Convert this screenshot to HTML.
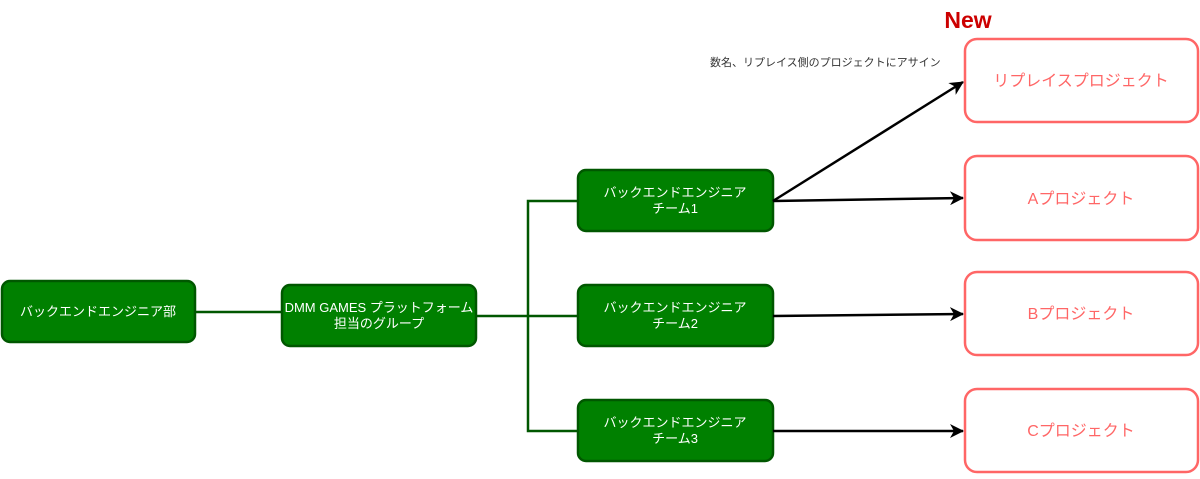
<!DOCTYPE html>
<html><head><meta charset="utf-8"><style>
body{margin:0;background:#fff;width:1200px;height:474px;overflow:hidden;font-family:"Liberation Sans","Noto Sans CJK JP",sans-serif}
</style></head><body>
<svg width="1200" height="474" xmlns="http://www.w3.org/2000/svg" font-family="Liberation Sans, Noto Sans CJK JP, sans-serif">
<defs><marker id="a" markerWidth="14" markerHeight="14" refX="13" refY="7" orient="auto" markerUnits="userSpaceOnUse"><path d="M0,0 L14,7 L0,14 L4,7 Z" fill="#000"/></marker></defs>
<g stroke="#005700" stroke-width="2.5" fill="none">
<line x1="195" y1="312" x2="282" y2="312"/>
<line x1="476" y1="316" x2="578" y2="316"/>
<polyline points="578,201 528,201 528,431 578,431"/>
</g>
<g fill="#008000" stroke="#005700" stroke-width="2.5">
<rect x="2" y="281" width="193" height="61" rx="8"/>
<rect x="282" y="285" width="194" height="61" rx="8"/>
<rect x="578" y="170" width="195" height="61" rx="8"/>
<rect x="578" y="285" width="195" height="61" rx="8"/>
<rect x="578" y="400" width="195" height="61" rx="8"/>
</g>
<g fill="#fff" font-size="13" text-anchor="middle">
<text x="98" y="316">バックエンドエンジニア部</text>
<text x="379" y="312">DMM GAMES プラットフォーム</text><text x="379" y="328">担当のグループ</text>
<text x="675" y="197">バックエンドエンジニア</text><text x="675" y="213">チーム1</text>
<text x="675" y="312">バックエンドエンジニア</text><text x="675" y="328">チーム2</text>
<text x="675" y="427">バックエンドエンジニア</text><text x="675" y="443">チーム3</text>
</g>
<g fill="#fff" stroke="#ff6666" stroke-width="2.5">
<rect x="965" y="39" width="233" height="83" rx="12"/>
<rect x="965" y="156" width="233" height="84" rx="12"/>
<rect x="965" y="272" width="233" height="83" rx="12"/>
<rect x="965" y="389" width="233" height="83" rx="12"/>
</g>
<g fill="#ff6666" font-size="16" text-anchor="middle">
<text x="1081" y="86">リプレイスプロジェクト</text>
<text x="1081" y="204">Aプロジェクト</text>
<text x="1081" y="319">Bプロジェクト</text>
<text x="1081" y="436">Cプロジェクト</text>
</g>
<g stroke="#000" stroke-width="2.5" marker-end="url(#a)">
<line x1="773" y1="201" x2="963" y2="82"/>
<line x1="773" y1="201" x2="963" y2="198"/>
<line x1="773" y1="316" x2="963" y2="314"/>
<line x1="773" y1="431" x2="963" y2="431"/>
</g>
<text x="968" y="28" fill="#cc0000" font-size="23" font-weight="bold" text-anchor="middle">New</text>
<text x="710" y="66" fill="#333" font-size="11">数名、リプレイス側のプロジェクトにアサイン</text>
</svg>
</body></html>
